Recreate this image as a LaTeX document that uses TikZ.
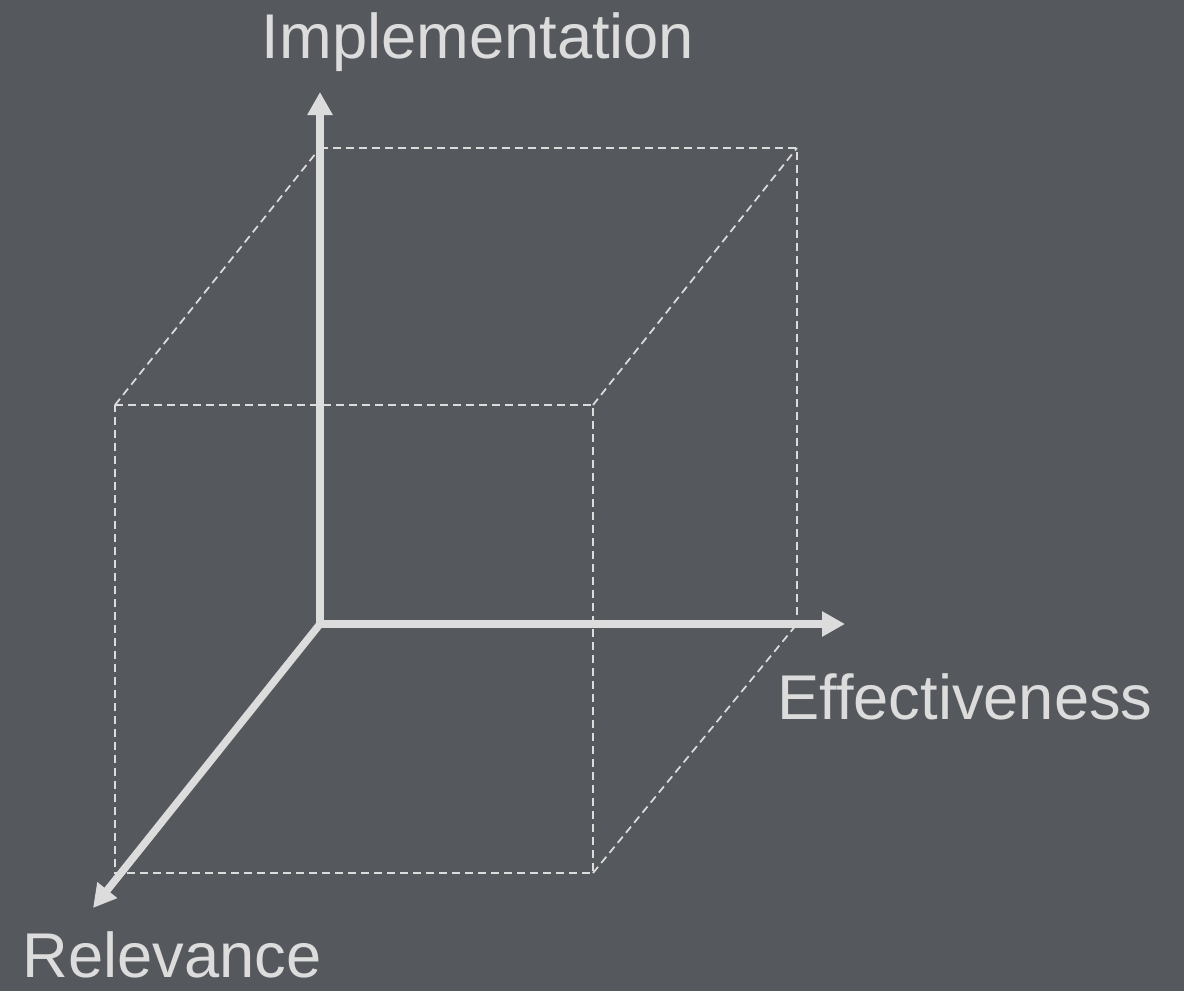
\documentclass[tikz,border=0pt]{standalone}
\usepackage{fontspec}
\setmainfont{Liberation Sans}
\usetikzlibrary{arrows.meta, positioning}
\definecolor{bgcol}{HTML}{55585C}
\definecolor{linecol}{HTML}{DCDCDC}

\begin{document}
\begin{tikzpicture}[
    x=0.02cm, y=-0.02cm,
    every node/.style={font=\fontsize{36}{40}\selectfont, text=linecol, inner sep=0pt},
    axis/.style={-{Triangle[length=0.46cm, width=0.48cm]}, line width=0.15cm, draw=linecol},
    edge/.style={draw=linecol, line width=0.035cm, dash pattern=on 0.16cm off 0.1cm}
]

% Hintergrund
\fill[bgcol] (0,0) rectangle (1184,991);
\useasboundingbox (0,0) rectangle (1184,991);

% Ecken des Wuerfels
\coordinate (O)   at (320,624);
\coordinate (btl) at (320,148);
\coordinate (btr) at (797,148);
\coordinate (bbr) at (797,624);
\coordinate (ftl) at (115,405);
\coordinate (ftr) at (593,405);
\coordinate (fbr) at (593,873);
\coordinate (fbl) at (115,873);

% Achsenenden
\coordinate (up)    at (320,92);
\coordinate (right) at (845,624);
\coordinate (front) at (93,908);

% Gestrichelte Kanten
\draw[edge] (btl) -- (btr) -- (bbr);
\draw[edge] (ftl) -- (ftr) -- (fbr) -- (fbl) -- cycle;
\draw[edge] (ftl) -- (btl);
\draw[edge] (ftr) -- (btr);
\draw[edge] (fbr) -- (bbr);

% Achsen
\draw[axis] (O) -- (up);
\draw[axis] (O) -- (right);
\draw[axis] (O) -- (front);

% Beschriftungen
\node (impl) at (478,42)  {Implementation};
\node (eff)  at (965,697) {Effectiveness};
\node (rel)  at (172,955) {Relevance};

\end{tikzpicture}
\end{document}
